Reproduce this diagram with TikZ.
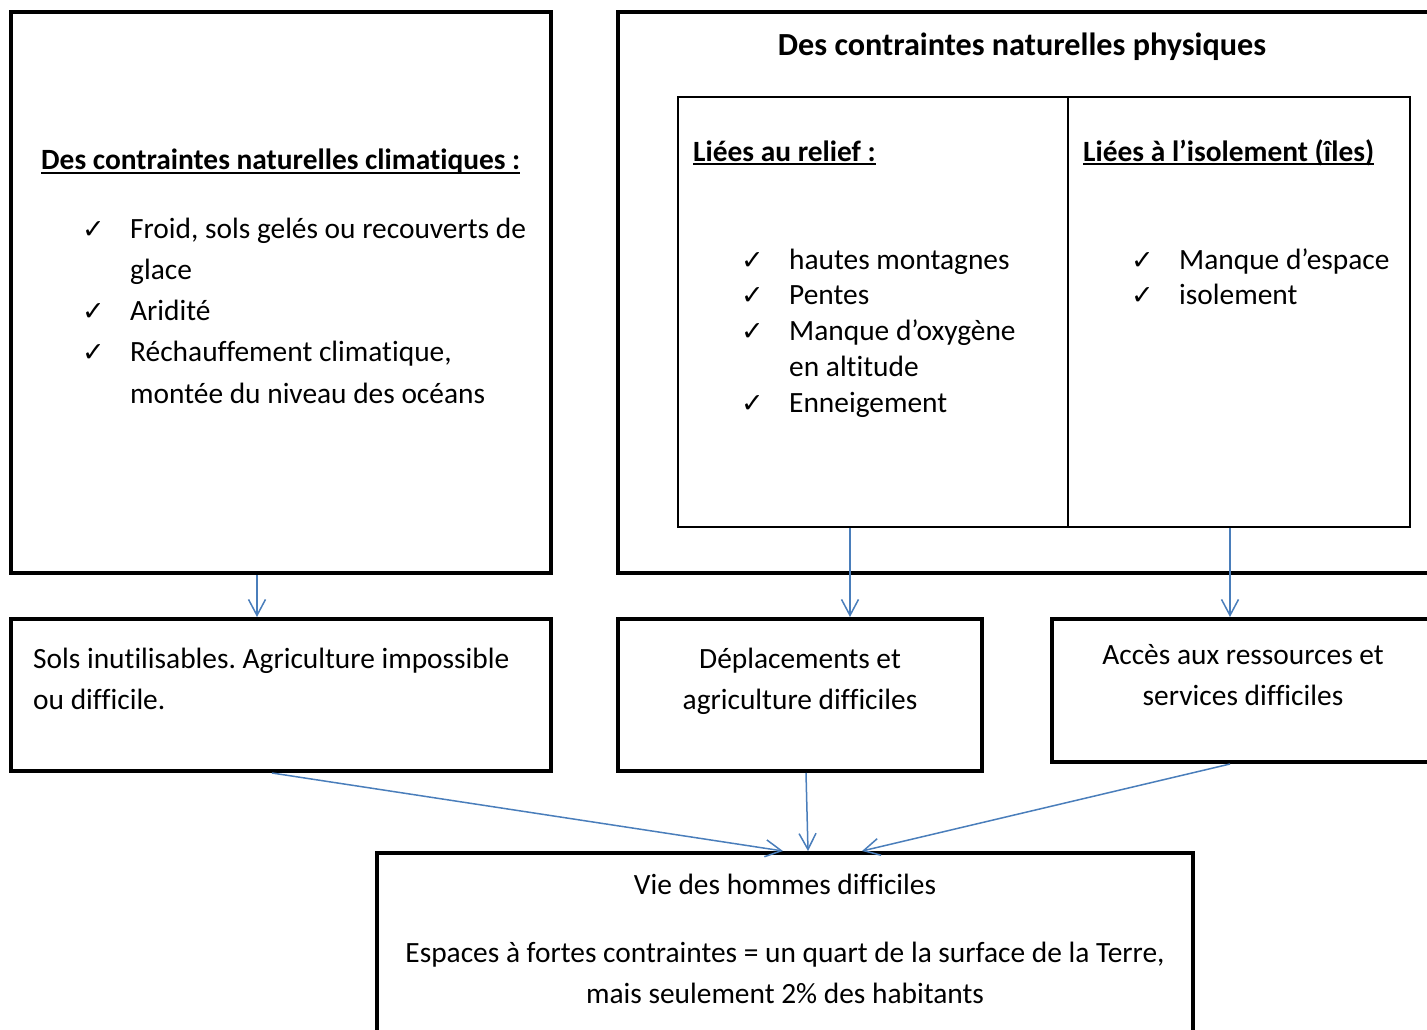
\documentclass[tikz,border=0pt]{standalone}
\usepackage{fontspec}
\setmainfont{Carlito}[Ligatures=NoCommon]
\newfontfamily\symfont{DejaVu Sans}
\usetikzlibrary{arrows.meta}
\definecolor{arrblue}{RGB}{74,126,187}
\newcommand{\myul}[1]{\setbox0\hbox{#1}\rlap{\raisebox{-4pt}{\rule{\wd0}{2pt}}}\box0}
\tikzset{
  thickbox/.style={draw=black, line width=4pt, rectangle, inner sep=0pt},
  thinbox/.style={draw=black, line width=2pt, rectangle, inner sep=0pt},
  txt/.style={inner sep=0pt, anchor=base west, font=\fontsize{29.4}{35}\selectfont},
  ctxt/.style={inner sep=0pt, anchor=base, font=\fontsize{29.4}{35}\selectfont},
  chk/.style={inner sep=0pt, anchor=base west, font=\symfont\fontsize{27}{32}\selectfont},
  arr/.style={draw=arrblue, line width=1.5pt, -{Straight Barb[length=16pt,width=17pt]}}
}
\begin{document}
\frenchspacing
\begin{tikzpicture}[x=1pt,y=-1pt]
\useasboundingbox (0,0) rectangle (1427,1030);
\clip (0,0) rectangle (1427,1030);
% boxes
\node[thickbox, minimum width=540, minimum height=561] (A) at (281,292.5) {};
\node[thickbox, minimum width=822, minimum height=561] (B) at (1029,292.5) {};
\node[thinbox, minimum width=390, minimum height=430] (T1) at (873,312) {};
\node[thinbox, minimum width=342, minimum height=430] (T2) at (1239,312) {};
\node[thickbox, minimum width=540, minimum height=152] (C) at (281,695) {};
\node[thickbox, minimum width=364, minimum height=152] (D) at (800,695) {};
\node[thickbox, minimum width=388, minimum height=143] (E) at (1246,690.5) {};
\node[thickbox, minimum width=816, minimum height=192] (F) at (785,949) {};
% climatiques
\node[txt, font=\bfseries\fontsize{29.4}{35}\selectfont] (ta) at (41,170) {\myul{Des contraintes naturelles climatiques :}};
\node[chk] (ca1) at (82,238) {✓};
\node[txt] (la1) at (130,238) {Froid, sols gelés ou recouverts de};
\node[txt] (la1b) at (130,279) {glace};
\node[chk] (ca2) at (82,320) {✓};
\node[txt] (la2) at (130,320) {Aridité};
\node[chk] (ca3) at (82,361) {✓};
\node[txt] (la3) at (130,361) {Réchauffement climatique,};
\node[txt] (la3b) at (130,403) {montée du niveau des océans};
% physiques
\node[ctxt, font=\bfseries\fontsize{32.2}{38}\selectfont] (tb) at (1022,56) {Des contraintes naturelles physiques};
\node[txt, font=\bfseries\fontsize{29.4}{35}\selectfont] (tr) at (693,161) {\myul{Liées au relief :}};
\node[txt, font=\bfseries\fontsize{29.4}{35}\selectfont] (ti) at (1083,161) {\myul{Liées à l’isolement (îles)}};
\node[chk] (cr1) at (741,269) {✓};
\node[txt] (lr1) at (789,269) {hautes montagnes};
\node[chk] (cr2) at (741,304) {✓};
\node[txt] (lr2) at (789,304) {Pentes};
\node[chk] (cr3) at (741,340) {✓};
\node[txt] (lr3) at (789,340) {Manque d’oxygène};
\node[txt] (lr3b) at (789,376) {en altitude};
\node[chk] (cr4) at (741,412) {✓};
\node[txt] (lr4) at (789,412) {Enneigement};
\node[chk] (ci1) at (1131,269) {✓};
\node[txt] (li1) at (1179,269) {Manque d’espace};
\node[chk] (ci2) at (1131,304) {✓};
\node[txt] (li2) at (1179,304) {isolement};
% consequences
\node[txt] (lc1) at (33,668) {Sols inutilisables. Agriculture impossible};
\node[txt] (lc2) at (33,709) {ou difficile.};
\node[ctxt] (ld1) at (800,668) {Déplacements et};
\node[ctxt] (ld2) at (800,709) {agriculture difficiles};
\node[ctxt] (le1) at (1243,664) {Accès aux ressources et};
\node[ctxt] (le2) at (1243,705) {services difficiles};
\node[ctxt] (lf1) at (785,894) {Vie des hommes difficiles};
\node[ctxt] (lf2) at (785,962) {Espaces à fortes contraintes = un quart de la surface de la Terre,};
\node[ctxt] (lf3) at (785,1003) {mais seulement 2\% des habitants};
% arrows
\draw[arr] ([xshift=-24pt]A.south) -- ([xshift=-24pt]C.north);
\draw[arr] ([xshift=-23pt]T1.south) -- ([xshift=50pt]D.north);
\draw[arr] ([xshift=-9pt]T2.south) -- ([xshift=-16pt]E.north);
\draw[arr] ([xshift=-9pt]C.south) -- ([xshift=-2pt]F.north);
\draw[arr] ([xshift=6pt]D.south) -- ([xshift=23pt]F.north);
\draw[arr] ([xshift=-16pt]E.south) -- ([xshift=77pt]F.north);
\end{tikzpicture}
\end{document}
